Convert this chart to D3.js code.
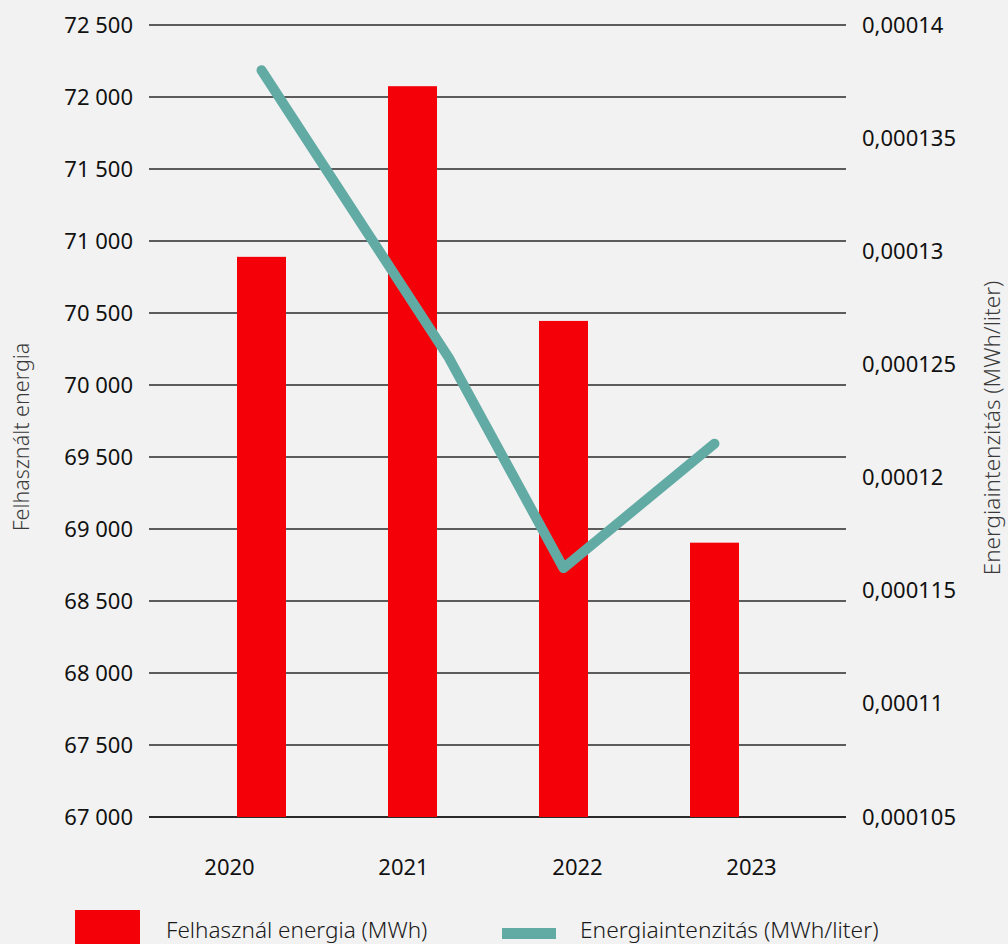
<!DOCTYPE html>
<html>
<head>
<meta charset="utf-8">
<script src="https://cdn.jsdelivr.net/npm/d3@7"></script>
<style>
  html, body { margin: 0; padding: 0; background: #f2f2f2; }
  svg { display: block; font-family: "Noto Sans", "DejaVu Sans", sans-serif; }
</style>
</head>
<body>
<div id="chart"></div>
<script>
// Chart data
const years = ["2020", "2021", "2022", "2023"];
const energyMWh = [70890, 72075, 70445, 68905];
const intensity = [0.000138, 0.0001253, 0.000116, 0.0001215];
// where each intensity point sits along the year axis (0 = 2020, 3 = 2023)
const intensityPos = [0, 1.24, 2, 3];
const leftTicks = [67000, 67500, 68000, 68500, 69000, 69500, 70000, 70500, 71000, 71500, 72000, 72500];
const rightTicks = [0.000105, 0.00011, 0.000115, 0.00012, 0.000125, 0.00013, 0.000135, 0.00014];

const width = 1008, height = 944;
const red = "#f40009", teal = "#62aba5";

const locale = d3.formatLocale({decimal: ",", thousands: " ", grouping: [3], currency: ["", ""]});
const fmtLeft = locale.format(",d");
const fmtRight = locale.format("~g");

const svg = d3.select("#chart")
  .append("svg")
    .attr("width", width)
    .attr("height", height);

svg.append("rect").attr("width", width).attr("height", height).attr("fill", "#f2f2f2");

// scales
const yLeft = d3.scaleLinear().domain([67000, 72500]).range([817, 25]);
const yRight = d3.scaleLinear().domain([0.000105, 0.00014]).range([817, 25]);
const xBar = d3.scalePoint().domain(years).range([261.5, 714.5]);
const xIdx = d3.scaleLinear().domain([0, years.length - 1]).range(xBar.range());
const xLabel = d3.scalePoint().domain(years).range([142, 838]).padding(0.5);

// gridlines
svg.append("g")
  .selectAll("line")
  .data(leftTicks)
  .join("line")
    .attr("x1", 149)
    .attr("x2", 846)
    .attr("y1", d => yLeft(d))
    .attr("y2", d => yLeft(d))
    .attr("stroke", "#2a2a2a")
    .attr("stroke-width", d => d === 67000 ? 2 : 1.5);

// left axis
const leftAxis = svg.append("g")
  .attr("transform", "translate(133,0)")
  .call(d3.axisLeft(yLeft).tickValues(leftTicks).tickFormat(fmtLeft).tickSize(0).tickPadding(0));
leftAxis.select(".domain").remove();
leftAxis.selectAll("text")
  .attr("font-family", "Noto Sans")
  .attr("font-size", 22)
  .attr("fill", "#111");

// right axis
const rightAxis = svg.append("g")
  .attr("transform", "translate(862,0)")
  .call(d3.axisRight(yRight).tickValues(rightTicks).tickFormat(fmtRight).tickSize(0).tickPadding(0));
rightAxis.select(".domain").remove();
rightAxis.selectAll("text")
  .attr("font-family", "Noto Sans")
  .attr("font-size", 22)
  .attr("fill", "#111");

// x axis labels
const xAxis = svg.append("g")
  .attr("transform", "translate(0,859)")
  .call(d3.axisBottom(xLabel).tickSize(0).tickPadding(0));
xAxis.select(".domain").remove();
xAxis.selectAll("text")
  .attr("font-family", "Noto Sans")
  .attr("font-size", 22)
  .attr("fill", "#111");

// bars
const barW = 49;
svg.append("g")
  .selectAll("rect")
  .data(energyMWh)
  .join("rect")
    .attr("x", (d, i) => xBar(years[i]) - barW / 2)
    .attr("y", d => yLeft(d))
    .attr("width", barW)
    .attr("height", d => yLeft(67000) - yLeft(d))
    .attr("fill", red);

// intensity line
const line = d3.line()
  .x((d, i) => xIdx(intensityPos[i]))
  .y(d => yRight(d));

svg.append("path")
  .datum(intensity)
  .attr("d", line)
  .attr("fill", "none")
  .attr("stroke", teal)
  .attr("stroke-width", 10)
  .attr("stroke-linecap", "round")
  .attr("stroke-linejoin", "round");

// axis titles
svg.append("text")
  .attr("transform", "translate(29,437) rotate(-90)")
  .attr("text-anchor", "middle")
  .attr("font-size", 21.5)
  .attr("font-weight", 300)
  .attr("fill", "#3a3a3a")
  .text("Felhasznált energia");

svg.append("text")
  .attr("transform", "translate(1000,428) rotate(-90)")
  .attr("text-anchor", "middle")
  .attr("font-size", 22.5)
  .attr("font-weight", 300)
  .attr("fill", "#3a3a3a")
  .text("Energiaintenzitás (MWh/liter)");

// legend
const legend = svg.append("g");
legend.append("rect")
  .attr("x", 75).attr("y", 910).attr("width", 65).attr("height", 40)
  .attr("fill", red);
legend.append("text")
  .attr("x", 166).attr("y", 938)
  .attr("font-size", 22.5).attr("font-weight", 300).attr("fill", "#1a1a1a")
  .text("Felhasznál energia (MWh)");
legend.append("rect")
  .attr("x", 502).attr("y", 928).attr("width", 54).attr("height", 11)
  .attr("fill", teal);
legend.append("text")
  .attr("x", 580).attr("y", 938)
  .attr("font-size", 22.8).attr("font-weight", 300).attr("fill", "#1a1a1a")
  .text("Energiaintenzitás (MWh/liter)");
</script>
</body>
</html>
